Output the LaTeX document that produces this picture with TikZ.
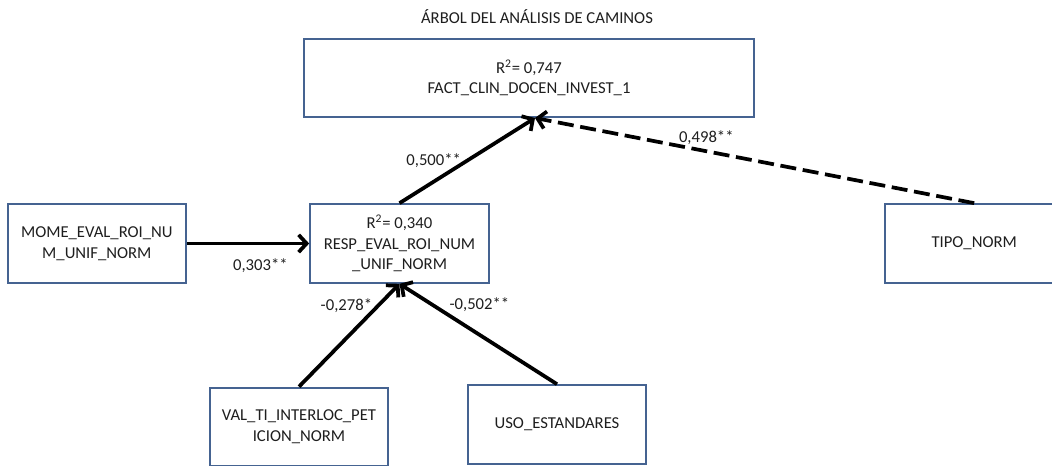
\documentclass[tikz,border=0pt]{standalone}
\usepackage{fontspec}
\setmainfont{Carlito}
\usetikzlibrary{positioning,arrows.meta}
\definecolor{boxblue}{RGB}{69,99,145}
\definecolor{txtgray}{RGB}{30,30,30}
\begin{document}
\begin{tikzpicture}[x=0.75pt,y=-0.75pt,
    font=\fontsize{12.5}{15.5}\selectfont,text=txtgray,
    box/.style={rectangle,draw=boxblue,line width=1.5pt,minimum width=134pt,minimum height=59pt,align=center},
    arrow/.style={-{Straight Barb[length=6pt,width=13pt]},line width=2.8pt},
    dasharrow/.style={arrow,dash pattern=on 12pt off 5pt}
    ]
    \useasboundingbox (0,0) rectangle (1052,466);

    \node (title) at (537,17) {ÁRBOL DEL ANÁLISIS DE CAMINOS};
    \node[box,minimum width=337.5pt,minimum height=58.5pt] (fact) at (529,78) {R\textsuperscript{2}= 0,747\\FACT\_CLIN\_DOCEN\_INVEST\_1};
    \node[box] (resp) at (399.5,243.5) {R\textsuperscript{2}= 0,340\\RESP\_EVAL\_ROI\_NUM\\\_UNIF\_NORM};
    \node[box,left=91.5pt of resp] (mome) {MOME\_EVAL\_ROI\_NU\\M\_UNIF\_NORM};
    \node[box,right=295.5pt of resp] (tipo) {TIPO\_NORM};
    \node[box] (val) at (299,427) {VAL\_TI\_INTERLOC\_PET\\ICION\_NORM};
    \node[box] (uso) at (557,424.5) {USO\_ESTANDARES};

    \draw[arrow] (resp.north) -- node[left] {0,500**} ([xshift=4.5pt]fact.south);
    \draw[dasharrow] (tipo.north) -- node[pos=0.61,above] {0,498**} ([xshift=4.5pt]fact.south);
    \draw[arrow] (mome.east) -- node[pos=0.6,below=7pt] {0,303**} (resp.west);
    \draw[arrow] (val.north) -- node[pos=0.79,left] {-0,278*} (resp.south);
    \draw[arrow] (uso.north) -- node[pos=0.79,right=8pt] {-0,502**} (resp.south);

  \end{tikzpicture}
\end{document}
